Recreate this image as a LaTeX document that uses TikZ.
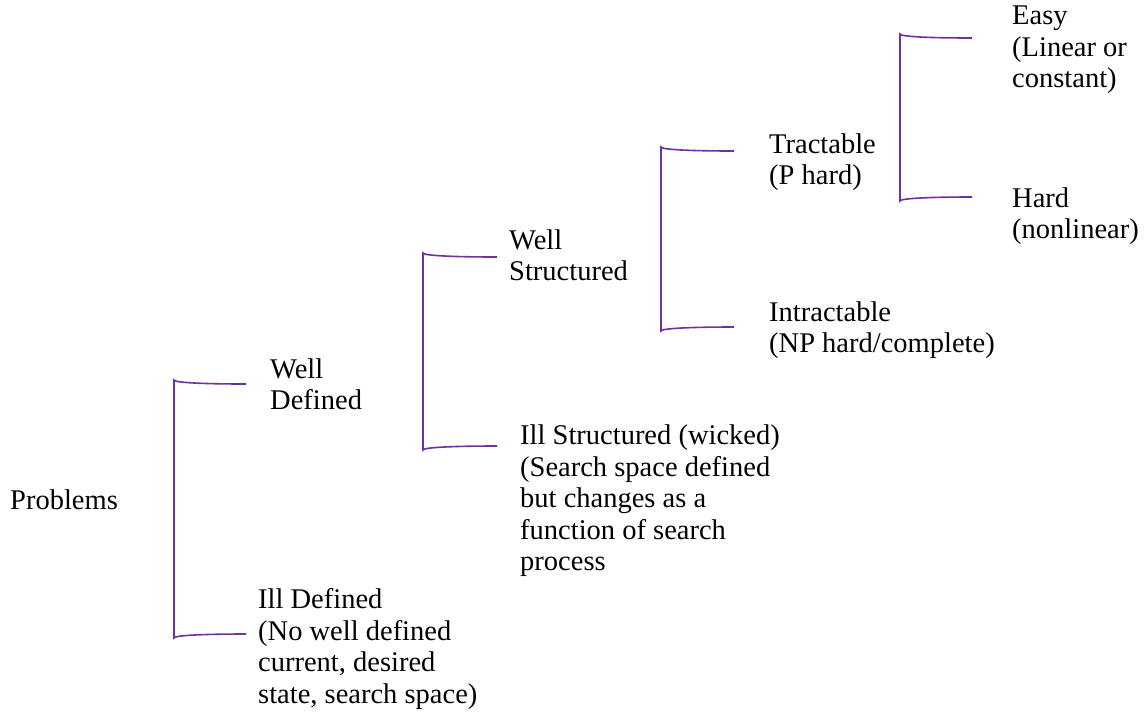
\documentclass[tikz,border=0pt]{standalone}
\usepackage{fontspec}
\setmainfont{Liberation Serif}
\definecolor{brk}{HTML}{7030A0}
\begin{document}
\begin{tikzpicture}[x=1pt,y=-1pt,
  lbl/.style={anchor=west,inner sep=0pt,align=left,font=\fontsize{28.5}{31.5}\selectfont},
  brace/.style={draw=brk,line width=1.6pt}]
\useasboundingbox (0,0) rectangle (1145,713);
% text nodes
\node[lbl] (prob) at (10,500) {Problems};
\node[lbl] (wdef) at (270,384) {Well\\Defined};
\node[lbl] (idef) at (258,649) {Ill Defined\\(No well defined\\current, desired\\state, search space)};
\node[lbl] (wstr) at (509,255) {Well\\Structured};
\node[lbl] (istr) at (520,501) {Ill Structured (wicked)\\(Search space defined\\but changes as a\\function of  search\\process};
\node[lbl] (tract) at (769,162) {Tractable\\(P hard)};
\node[lbl] (intr) at (769,330) {Intractable\\(NP hard/complete)};
\node[lbl] (easy) at (1012,50) {Easy\\(Linear or\\constant)};
\node[lbl] (hard) at (1012,216) {Hard\\(nonlinear)};
% bracket coordinates
\coordinate (a1) at (246,384); \coordinate (b1) at (246,634); \coordinate (v1) at (174,0);
\coordinate (a2) at (497,257); \coordinate (b2) at (497,446); \coordinate (v2) at (423,0);
\coordinate (a3) at (734,151); \coordinate (b3) at (734,327); \coordinate (v3) at (661,0);
\coordinate (a4) at (972,38); \coordinate (b4) at (972,197); \coordinate (v4) at (900,0);
\foreach \i in {1,2,3,4}{
  \draw[brace] (a\i) .. controls ([xshift=-45pt]a\i) and ([yshift=1.5pt]v\i |- a\i) .. ([yshift=4pt]v\i |- a\i)
     -- ([yshift=-4pt]v\i |- b\i) .. controls ([yshift=-1.5pt]v\i |- b\i) and ([xshift=-45pt]b\i) .. (b\i);
}
\end{tikzpicture}
\end{document}
